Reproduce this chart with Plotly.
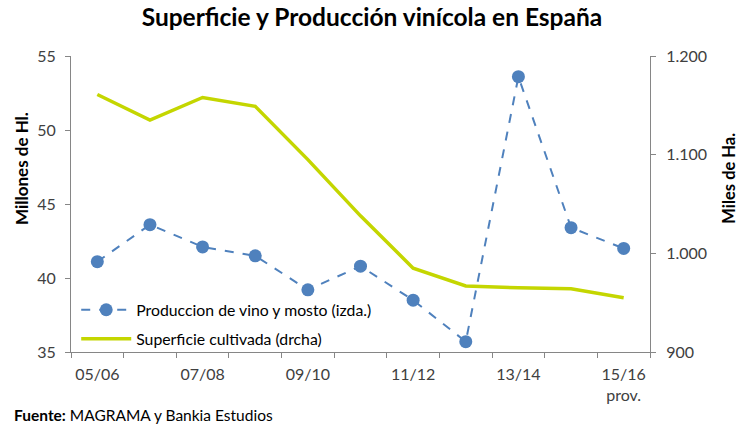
import plotly.graph_objects as go

campanas = ["05/06", "06/07", "07/08", "08/09", "09/10", "10/11",
            "11/12", "12/13", "13/14", "14/15", "15/16"]
tick_texto = ["05/06", "", "07/08", "", "09/10", "", "11/12", "", "13/14", "", "15/16<br>prov."]
produccion = [41.1, 43.6, 42.1, 41.5, 39.2, 40.8, 38.5, 35.7, 53.6, 43.4, 42.0]
superficie = [1161, 1135, 1158, 1149, 1095, 1038, 985, 967, 965, 964, 955]

FONT = "Lato"
AXIS = "#868686"
TXT = "#404040"

fig = go.Figure()
fig.add_trace(go.Scatter(
    x=campanas, y=produccion, name="Produccion de vino y mosto (izda.)",
    mode="lines+markers",
    line=dict(color="#4F81BD", width=2, dash="dash"),
    marker=dict(color="#4F81BD", size=13),
    yaxis="y", legend="legend",
))
fig.add_trace(go.Scatter(
    x=campanas, y=superficie, name="Superficie cultivada (drcha)",
    mode="lines",
    line=dict(color="#C4D600", width=3.5),
    yaxis="y2", legend="legend2",
))

fig.update_layout(
    width=738, height=425,
    margin=dict(l=71, r=88, t=56, b=73, autoexpand=False),
    paper_bgcolor="white", plot_bgcolor="white",
    separators=",.",
    font=dict(family=FONT, size=15, color=TXT),
    title=dict(text="<b>Superficie y Producción vinícola en España</b>",
               x=0.504, xref="container", xanchor="center",
               y=0.958, yref="container", yanchor="middle",
               font=dict(family=FONT, size=24.5, color="#000000")),
    xaxis=dict(type="category", categoryorder="array", categoryarray=campanas,
               tickvals=campanas, ticktext=tick_texto, tickson="boundaries",
               range=[-0.5, 10.5], tickangle=0, automargin=False,
               ticklabelstandoff=8,
               showline=True, linecolor=AXIS, linewidth=1,
               ticks="outside", ticklen=5, tickcolor=AXIS,
               showgrid=False, zeroline=False,
               tickfont=dict(family=FONT, size=16, color=TXT)),
    yaxis=dict(range=[35, 55], dtick=5, showline=True, linecolor=AXIS,
               ticks="outside", ticklen=5, tickcolor=AXIS, automargin=False,
               ticklabelstandoff=6,
               showgrid=False, zeroline=False,
               tickfont=dict(family=FONT, size=16, color=TXT)),
    yaxis2=dict(range=[900, 1200], dtick=100, overlaying="y", side="right",
                tickformat=",d", showline=True, linecolor=AXIS, automargin=False,
                ticks="outside", ticklen=5, tickcolor=AXIS,
                ticklabelstandoff=7,
                showgrid=False, zeroline=False,
                tickfont=dict(family=FONT, size=16, color=TXT)),
    legend=dict(x=0.009, y=0.142, xanchor="left", yanchor="middle",
                bgcolor="rgba(0,0,0,0)", itemwidth=50,
                font=dict(family=FONT, size=15.8, color="#000000")),
    legend2=dict(x=0.009, y=0.044, xanchor="left", yanchor="middle",
                 bgcolor="rgba(0,0,0,0)", itemwidth=50,
                 font=dict(family=FONT, size=15.8, color="#000000")),
    showlegend=True,
    annotations=[
        dict(text="<b>Fuente:</b> MAGRAMA y Bankia Estudios",
             xref="paper", yref="paper", x=-0.102, y=-0.213,
             xanchor="left", yanchor="middle", showarrow=False,
             font=dict(family=FONT, size=15.5, color="#000000")),
        dict(text="<b>Millones de Hl.</b>", textangle=-90,
             xref="paper", yref="paper", x=-0.0855, y=0.62,
             xanchor="center", yanchor="middle", showarrow=False,
             font=dict(family=FONT, size=17, color="#000000")),
        dict(text="<b>Miles de Ha.</b>", textangle=-90,
             xref="paper", yref="paper", x=1.135, y=0.586,
             xanchor="center", yanchor="middle", showarrow=False,
             font=dict(family=FONT, size=16.5, color="#000000")),
    ],
)

fig.write_html(
    "out.html",
    config={"displayModeBar": False},
    post_script="document.body.style.margin='0';document.body.style.overflow='hidden';",
)
